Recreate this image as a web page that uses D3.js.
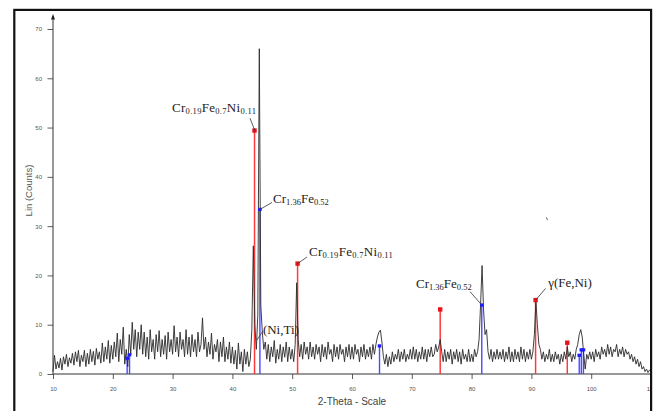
<!DOCTYPE html>
<html><head><meta charset="utf-8">
<script src="https://cdn.jsdelivr.net/npm/d3@7"></script>
<style>body{margin:0;background:#fff;overflow:hidden}</style>
</head><body><svg id="c" width="657" height="411"></svg>
<script>
// ---- data ----
const thetaStart = 10, thetaStep = 0.25;
const counts = [
 0.5,3.8,1,2.5,1.2,3.2,0.8,3.5,2,4,1.5,3.3,2.2,4.2,1.8,4.5,2.5,4.8,1.5,3.8,
 2.5,4.8,1.5,4.2,2,5,2.5,4.6,1.8,5.2,3,4.5,2.2,6.3,2.5,5.5,3,6.8,2.2,5.8,
 3,6.5,3.5,8.3,2.5,7,4,9.5,2,5,1.5,8,4,10.5,5,9,3.5,8.5,5,10,
 4,8.5,3.5,7.5,3,9,4.5,7,3,8,4.5,8.8,3.5,7,4,7.8,3,8.5,4.5,7,
 4,9.8,4.5,7.5,3.5,8.5,5,7,3.5,9,4,7.5,3.5,8,4.5,7,3.5,8.5,4.5,6,
 11.4,5,7.5,3.5,6.5,4,8.3,3,6,4.5,7,2.5,6.5,3.5,7.5,2.5,5.5,3,6.5,2.2,
 5.5,2,4.8,1,6.3,2,4.5,0.5,5,2,4.5,1.5,3,9,26,10,5,12,66,14,
 8.5,5,6.5,3,6,2.5,5.5,3.5,6.8,2.2,5,3,6,2.5,5.5,3.4,6.5,2.5,5.5,3,
 5,2.5,6,18.5,7,3.5,6,3,6.5,4,5.5,3,6.5,3.5,5.5,3,6,4,5.5,2.5,
 6,3.5,5.5,3,6.5,4,5,2.5,6,3.5,5.5,3,6,4,5,2.5,5.5,3.5,6,3,
 5.5,3,6,4,5,2.5,5.5,3.5,6,3,5,3.5,5.5,3,6,4,6,7.5,8.5,8.9,
 6.5,3.5,2,4,1.5,3.5,2,4.5,2.5,4,3,5,2.5,4.5,3,5,2.5,4,3,5,
 3,5.5,3,5,2.5,4.5,3,5.5,3,5,2.5,5,3.5,5.5,3.5,4,6,4.5,5.5,7,
 4.5,2.5,5,2.5,4.5,3,5,2,4.5,3,5,2.5,4.5,2,5,3,4,2.5,5,2.5,
 4,2.5,5,3.5,4.5,7,14,22,13,8,9,4.5,3,5,2.5,4.5,3,5,3,4.5,
 3,5,2.5,4.5,3,5.5,2.5,4.5,2.5,5,3,4.5,2.5,5.5,3,5,2.5,4.5,3,5,
 3,4.5,8,14.8,10,6,5,3,4.5,2.5,4,3,5,2.5,4,2.5,4.5,3,4,2,
 4,2.5,4.5,3,5.5,3.5,4.5,2.5,4,3,5,6,8,9,7.5,4,1,4,3,4.5,
 3,4.5,2.5,5,3.5,4.5,3,5.5,4,5,3.5,6,4,5.5,3.5,5,4.5,6,3.5,5,
 4,5.5,3.5,5,4,4.5,3,4,2.5,3.5,2,3,1.5,2.5,1,1.5,0.5,1,0.3,0.8,
 0.5
];
const redPos  = [43.7, 50.9, 74.75, 90.7, 96.0];
const redInt  = [49.4, 22.4, 13.1, 15.0, 6.35];
const bluePos = [22.4, 22.8, 44.6, 64.6, 81.7, 98.0, 98.35, 98.7];
const blueInt = [3.2, 3.9, 33.4, 5.7, 14.0, 3.8, 4.9, 4.9];
const xTickLabels = [10,20,30,40,50,60,70,80,90,100,110];
const yTickLabels = [0,10,20,30,40,50,60,70];
const xTitle = "2-Theta - Scale";
const yTitle = "Lin (Counts)";
// annotations: text pieces [text, isSubscript], text anchor (2θ, counts), leader from/to
const annotations = [
 {parts:[["Cr",0],["0.19",1],["Fe",0],["0.7",1],["Ni",0],["0.11",1]], at:[29.9,53.2], from:[43.75,49.4], to:[42.94,51.9], ls:0.3},
 {parts:[["Cr",0],["1.36",1],["Fe",0],["0.52",1]], at:[46.8,34.7], from:[44.62,33.4], to:[46.62,34.8], ls:0},
 {parts:[["Cr",0],["0.19",1],["Fe",0],["0.7",1],["Ni",0],["0.11",1]], at:[52.8,23.9], from:[50.92,22.4], to:[52.47,23.74], ls:0.3},
 {parts:[["(Ni,Ti)",0]], at:[45.1,8.1], from:[44.1,6.9], to:[45.1,8.7], ls:0},
 {parts:[["Cr",0],["1.36",1],["Fe",0],["0.52",1]], at:[70.7,17.45], from:[81.7,14.0], to:[79.75,16.7], ls:0},
 {parts:[["γ(Fe,Ni)",0]], at:[92.8,17.65], from:[90.72,15.0], to:[92.36,17.35], ls:0}
];

// ---- chart ----
const svg = d3.select("#c");
const x = d3.scaleLinear().domain([10,110]).range([53,651]);
const y = d3.scaleLinear().domain([0,70]).range([374,29]);

svg.append("defs").append("clipPath").attr("id","fr")
  .append("rect").attr("x",15).attr("y",10).attr("width",635).attr("height",410);
const g = svg.append("g").attr("clip-path","url(#fr)");

// x axis ticks
const ax = g.append("g").attr("transform",`translate(0,${y(0)})`);
ax.call(d3.axisBottom(x).tickValues(d3.range(10,111,1)).tickSize(3).tickFormat(""));
ax.call(d3.axisBottom(x).tickValues(xTickLabels).tickSize(5).tickPadding(7.5).tickFormat(d3.format("d")));
ax.selectAll(".domain").remove();
ax.selectAll("line").attr("stroke","#333").attr("stroke-width",0.8);
ax.selectAll("text").attr("font-size",6).attr("font-family","Liberation Sans, Arial, sans-serif").attr("fill","#555");
g.append("line").attr("x1",x(10)).attr("x2",x(110)).attr("y1",y(0)).attr("y2",y(0)).attr("stroke","#333").attr("stroke-width",1);

// y axis
const ay = g.append("g").attr("transform",`translate(${x(10)},0)`);
ay.call(d3.axisLeft(y).tickValues(d3.range(0,71,1)).tickSize(4).tickFormat(""));
ay.call(d3.axisLeft(y).tickValues(yTickLabels).tickSize(5.5).tickPadding(5.5).tickFormat(d3.format("d")));
ay.selectAll(".domain").remove();
ay.selectAll("line").attr("stroke","#333").attr("stroke-width",0.8);
ay.selectAll("text").attr("font-size",6).attr("font-family","Liberation Sans, Arial, sans-serif").attr("fill","#555");
g.append("line").attr("x1",x(10)).attr("x2",x(10)).attr("y1",y(0)).attr("y2",16).attr("stroke","#333").attr("stroke-width",1);
g.append("path").attr("d",`M${x(10)},14 L${x(10)-2},19.5 L${x(10)+2},19.5 Z`).attr("fill","#222");

// titles
g.append("text").attr("x",352).attr("y",405).attr("text-anchor","middle")
  .attr("font-size",10).attr("font-family","Liberation Sans, Arial, sans-serif").attr("fill","#444").text(xTitle);
g.append("text").attr("transform","translate(32,190.5) rotate(-90)").attr("text-anchor","middle")
  .attr("font-size",9.5).attr("font-family","Liberation Sans, Arial, sans-serif").attr("fill","#555").text(yTitle);

// reference sticks
const red = redPos.map((p,i)=>({p, v:redInt[i]}));
const blue = bluePos.map((p,i)=>({p, v:blueInt[i]}));
g.selectAll(".rs").data(red).join("line").attr("class","rs")
  .attr("x1",d=>x(d.p)).attr("x2",d=>x(d.p)).attr("y1",y(0)).attr("y2",d=>y(d.v))
  .attr("stroke","#ff3a3a").attr("stroke-width",1.5);
g.selectAll(".bs").data(blue).join("line").attr("class","bs")
  .attr("x1",d=>x(d.p)).attr("x2",d=>x(d.p)).attr("y1",y(0)).attr("y2",d=>y(d.v))
  .attr("stroke","#4a4aff").attr("stroke-width",1.4);

// trace
const pts = counts.map((c,i)=>[thetaStart+i*thetaStep, c]);
g.append("path").datum(pts)
  .attr("d", d3.line().x(d=>x(d[0])).y(d=>y(d[1])))
  .attr("fill","none").attr("stroke","#2a2a2a").attr("stroke-width",0.9).attr("stroke-linejoin","round");

// markers
g.selectAll(".rm").data(red).join("rect").attr("class","rm")
  .attr("x",d=>x(d.p)-2.2).attr("y",d=>y(d.v)-2.2).attr("width",4.4).attr("height",4.4).attr("fill","#e8121b");
g.selectAll(".bm").data(blue).join("rect").attr("class","bm")
  .attr("x",d=>x(d.p)-1.8).attr("y",d=>y(d.v)-1.6).attr("width",3.6).attr("height",3.2).attr("fill","#1c1cff");

// annotations
annotations.forEach(a=>{
  g.append("line").attr("x1",x(a.from[0])).attr("y1",y(a.from[1])).attr("x2",x(a.to[0])).attr("y2",y(a.to[1]))
    .attr("stroke","#333").attr("stroke-width",0.8);
  const t = g.append("text").attr("x",x(a.at[0])).attr("y",y(a.at[1]))
    .attr("font-family","Liberation Serif, Times New Roman, serif").attr("fill","#222")
    .attr("letter-spacing",a.ls);
  let sub = false;
  a.parts.forEach(([s,isSub])=>{
    const ts = t.append("tspan").text(s).attr("font-size", isSub?8.5:13);
    if (isSub && !sub) ts.attr("dy",2);
    if (!isSub && sub) ts.attr("dy",-2);
    sub = !!isSub;
  });
});
// stray mark
g.append("line").attr("x1",x(92.5)).attr("y1",y(31.8)).attr("x2",x(92.7)).attr("y2",y(31.2)).attr("stroke","#444").attr("stroke-width",0.8);

// frame
svg.append("rect").attr("x",14.3).attr("y",9.9).attr("width",636.8).attr("height",420)
  .attr("fill","none").attr("stroke","#111").attr("stroke-width",2.2);
</script></body></html>
